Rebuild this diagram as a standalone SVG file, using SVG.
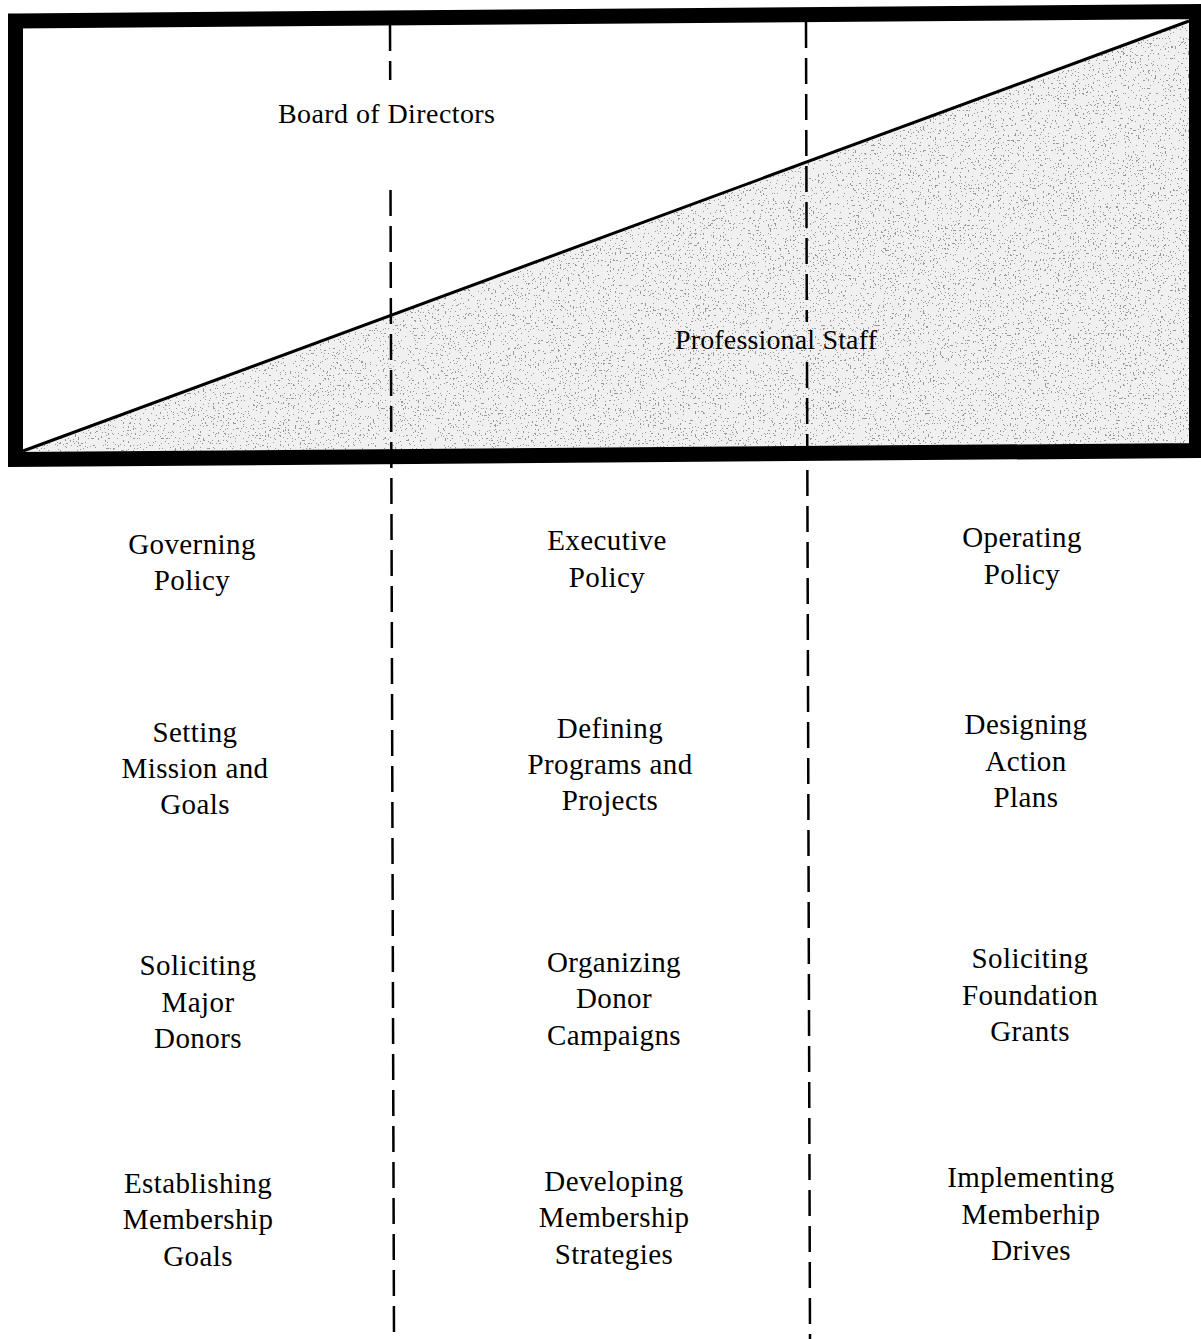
<svg xmlns="http://www.w3.org/2000/svg" width="1201" height="1339" viewBox="0 0 1201 1339">
  <style>
    .lbl { font-family: "Liberation Serif", "Times New Roman", serif; font-size: 29px; fill: #000; text-anchor: middle; letter-spacing: 0.4px; }
    .hdr { font-family: "Liberation Serif", "Times New Roman", serif; font-size: 28px; fill: #000; }
    .dash { stroke: #000; stroke-width: 2.5; stroke-dasharray: 26 10; fill: none; }
  </style>
  <defs>
    <filter id="stipple" filterUnits="userSpaceOnUse" x="0" y="0" width="1201" height="470">
      <feTurbulence type="fractalNoise" baseFrequency="0.6" numOctaves="1" seed="7" result="noise"/>
      <feColorMatrix in="noise" type="matrix" values="0 0 0 0 0.25  0 0 0 0 0.25  0 0 0 0 0.25  8 0 0 0 -4.75" result="thr"/>
      <feComponentTransfer in="thr" result="dots">
        <feFuncA type="discrete" tableValues="0 0.85"/>
      </feComponentTransfer>
      <feComposite in="dots" in2="SourceAlpha" operator="in"/>
    </filter>
  </defs>
  <rect width="1201" height="1339" fill="#fff"/>

  <g id="staff-area">
    <polygon points="23,451 1189,21 1189,443 23,452" fill="#f0f0f0"/>
    <polygon points="23,451 1189,21 1189,443 23,452" fill="#000" filter="url(#stipple)"/>
  </g>

  <g id="dividers">
    <path class="dash" d="M390,25 L390.2,80 M390.5,190 L394,1339"/>
    <path class="dash" d="M806,22 L806.8,322 M807,362 L810,1339"/>
  </g>

  <g id="frame">
    <line x1="23" y1="451" x2="1189" y2="21" stroke="#000" stroke-width="3"/>
    <polygon points="15.5,21 1196.5,11.5 1196.5,450.5 15.5,459.5" fill="none" stroke="#000" stroke-width="15" stroke-linejoin="miter"/>
  </g>

  <g id="board-of-directors">
    <text class="hdr" x="278" y="123" textLength="217" lengthAdjust="spacing">Board of Directors</text>
  </g>
  <g id="professional-staff">
    <text class="hdr" x="675" y="349" textLength="202" lengthAdjust="spacing">Professional Staff</text>
  </g>

  <g id="governing-policy">
    <text class="lbl" x="192" y="554">Governing</text>
    <text class="lbl" x="192" y="590">Policy</text>
  </g>
  <g id="executive-policy">
    <text class="lbl" x="607" y="550">Executive</text>
    <text class="lbl" x="607" y="587">Policy</text>
  </g>
  <g id="operating-policy">
    <text class="lbl" x="1022" y="547">Operating</text>
    <text class="lbl" x="1022" y="584">Policy</text>
  </g>

  <g id="setting-mission">
    <text class="lbl" x="195" y="742">Setting</text>
    <text class="lbl" x="195" y="778">Mission and</text>
    <text class="lbl" x="195" y="814">Goals</text>
  </g>
  <g id="defining-programs">
    <text class="lbl" x="610" y="738">Defining</text>
    <text class="lbl" x="610" y="774">Programs and</text>
    <text class="lbl" x="610" y="810">Projects</text>
  </g>
  <g id="designing-action">
    <text class="lbl" x="1026" y="734">Designing</text>
    <text class="lbl" x="1026" y="771">Action</text>
    <text class="lbl" x="1026" y="807">Plans</text>
  </g>

  <g id="soliciting-major">
    <text class="lbl" x="198" y="975">Soliciting</text>
    <text class="lbl" x="198" y="1012">Major</text>
    <text class="lbl" x="198" y="1048">Donors</text>
  </g>
  <g id="organizing-donor">
    <text class="lbl" x="614" y="972">Organizing</text>
    <text class="lbl" x="614" y="1008">Donor</text>
    <text class="lbl" x="614" y="1045">Campaigns</text>
  </g>
  <g id="soliciting-foundation">
    <text class="lbl" x="1030" y="968">Soliciting</text>
    <text class="lbl" x="1030" y="1005">Foundation</text>
    <text class="lbl" x="1030" y="1041">Grants</text>
  </g>

  <g id="establishing-membership">
    <text class="lbl" x="198" y="1193">Establishing</text>
    <text class="lbl" x="198" y="1229">Membership</text>
    <text class="lbl" x="198" y="1266">Goals</text>
  </g>
  <g id="developing-membership">
    <text class="lbl" x="614" y="1191">Developing</text>
    <text class="lbl" x="614" y="1227">Membership</text>
    <text class="lbl" x="614" y="1264">Strategies</text>
  </g>
  <g id="implementing-drives">
    <text class="lbl" x="1031" y="1187">Implementing</text>
    <text class="lbl" x="1031" y="1224">Memberhip</text>
    <text class="lbl" x="1031" y="1260">Drives</text>
  </g>
</svg>
